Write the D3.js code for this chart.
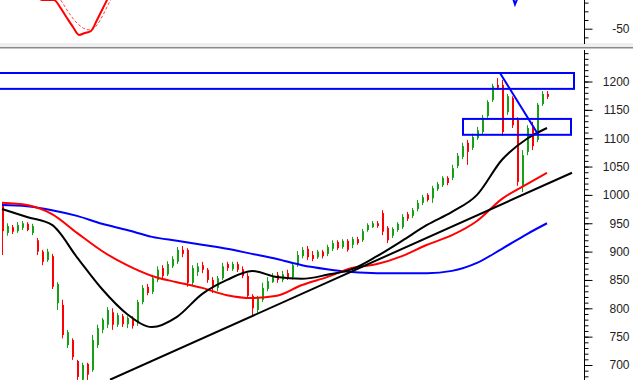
<!DOCTYPE html>
<html>
<head>
<meta charset="utf-8">
<script src="https://cdn.jsdelivr.net/npm/d3@7"></script>
<style>
  body { margin: 0; background: #fff; }
  svg { display: block; }
  .axis text { font-family: Arial, "Liberation Sans", sans-serif; font-size: 12px; fill: #222; }
  .axis line { stroke: #000; }
</style>
</head>
<body>
<svg width="633" height="380"></svg>
<script>
// daily candles, [open, high, low, close]
const ohlc = [
  [982, 987, 894, 936], [933, 950, 928, 945], [943, 947, 931, 935], [936, 952, 933, 947],
  [942, 954, 938, 950], [949, 952, 936, 938], [933, 949, 929, 945], [920, 924, 894, 900],
  [900, 903, 876, 882], [885, 905, 882, 900], [892, 896, 834, 838], [809, 846, 797, 843],
  [806, 815, 747, 753], [735, 762, 730, 758], [744, 747, 709, 714], [707, 709, 665, 679],
  [674, 704, 665, 700], [702, 704, 672, 683], [691, 753, 688, 744], [735, 771, 730, 765],
  [762, 783, 756, 780], [771, 802, 765, 797], [793, 800, 762, 771], [771, 792, 767, 788],
  [786, 790, 767, 772], [772, 786, 765, 783], [783, 786, 764, 769], [774, 815, 769, 811],
  [811, 841, 807, 836], [838, 843, 823, 827], [829, 859, 825, 853], [850, 874, 846, 868],
  [871, 876, 853, 857], [860, 883, 857, 878], [874, 892, 871, 887], [882, 908, 878, 903],
  [903, 910, 890, 896], [903, 906, 838, 845], [845, 876, 841, 871], [864, 880, 857, 874],
  [876, 882, 862, 868], [868, 871, 845, 850], [850, 855, 827, 836], [836, 857, 830, 853],
  [853, 880, 850, 874], [878, 882, 866, 871], [869, 882, 866, 878], [878, 882, 864, 868],
  [869, 874, 853, 857], [857, 862, 818, 822], [822, 825, 788, 800], [797, 822, 792, 818],
  [815, 845, 811, 836], [834, 855, 830, 848], [846, 862, 845, 857], [859, 864, 845, 850],
  [850, 866, 846, 860], [862, 868, 850, 853], [855, 882, 851, 876], [876, 901, 873, 894],
  [892, 908, 888, 903], [905, 910, 885, 890], [894, 901, 883, 887], [890, 903, 887, 900],
  [900, 903, 888, 892], [896, 912, 892, 908], [905, 920, 901, 915], [917, 920, 903, 906],
  [908, 922, 905, 919], [919, 922, 900, 903], [912, 926, 906, 922], [922, 926, 912, 915],
  [920, 940, 917, 936], [938, 950, 935, 947], [943, 954, 942, 950], [950, 954, 942, 945],
  [968, 973, 929, 935], [942, 945, 915, 920], [928, 943, 924, 940], [938, 952, 935, 949],
  [943, 966, 940, 961], [966, 970, 954, 958], [963, 977, 959, 973], [975, 991, 971, 986],
  [986, 1000, 982, 996], [1000, 1003, 988, 991], [994, 1016, 986, 1012], [1010, 1023, 1007, 1019],
  [1017, 1033, 1014, 1030], [1030, 1033, 1017, 1021], [1030, 1053, 1026, 1047], [1051, 1074, 1047, 1069],
  [1067, 1092, 1063, 1086], [1092, 1097, 1053, 1076], [1083, 1108, 1079, 1102], [1100, 1120, 1097, 1114],
  [1111, 1141, 1107, 1136], [1139, 1167, 1136, 1164], [1167, 1196, 1164, 1192], [1194, 1206, 1185, 1189],
  [1194, 1203, 1104, 1111], [1146, 1178, 1141, 1174], [1171, 1174, 1118, 1123], [1132, 1137, 1016, 1023],
  [1017, 1079, 1005, 1070], [1076, 1123, 1070, 1118], [1121, 1129, 1079, 1086], [1097, 1162, 1093, 1159],
  [1160, 1183, 1157, 1178], [1178, 1183, 1169, 1173]
];

// moving averages, sampled every 5 bars
const maIdx = [0, 5, 10, 15, 20, 25, 30, 35, 40, 45, 50, 55, 60, 65, 70, 75, 80, 85, 90, 95, 100, 105, 109];
const maShort = [975, 961, 947, 890, 834, 790, 767, 785, 825, 850, 866, 855, 852, 859, 869, 892, 919, 947, 970, 1000, 1062, 1099, 1118];
const maMid = [986, 982, 966, 933, 901, 876, 857, 846, 836, 823, 818, 822, 841, 855, 871, 878, 892, 912, 929, 954, 993, 1019, 1039];
const maLong = [982, 980, 973, 963, 949, 938, 926, 919, 912, 905, 896, 887, 876, 869, 864, 862, 862, 862, 866, 880, 905, 931, 950];

// drawn objects: [bar index, price]
const trendLine = [[21.6, 674], [114, 1039]];
const fallLine = [[99.6, 1215], [107.2, 1107]];
const boxes = [
  { from: -3, to: 114.4, top: 1215, bottom: 1187 },
  { from: 92.2, to: 113.8, top: 1134, bottom: 1106 }
];

// oscillator pane
const oscIdx = [6.8, 8.0, 10.4, 11.6, 13.0, 14.2, 15.4, 16.6, 17.8, 19.0, 20.2, 21.0, 21.6];
const oscMain = [-10, -17, -17, -25.1, -37.7, -48, -57.2, -54.9, -52.6, -40, -26.2, -17, -10];
const sigIdx = [11.2, 12, 13.4, 15.4, 16.6, 17.8, 19.0, 20.2, 21.4, 22.4];
const oscSignal = [-12.4, -19.3, -32, -45.7, -50.3, -51.5, -45.7, -34.3, -20.5, -11.3];
const oscBlueIdx = [101.8, 102.6, 103.3];
const oscBlue = [-8, -22, -12];

const priceTicks = [700, 750, 800, 850, 900, 950, 1000, 1050, 1100, 1150, 1200];
const oscTicks = [-50];

const W = 633, H = 380, axisX = 584;
const svg = d3.select('svg');

const x = d3.scaleLinear().domain([0, 109]).range([2, 547]);
const y = d3.scaleLinear().domain([700, 1200]).range([365, 81.5]);
const yOsc = d3.scaleLinear().domain([-50, -20]).range([28.7, 2.6]);

const defs = svg.append('defs');
defs.append('clipPath').attr('id', 'clipMain')
  .append('rect').attr('x', 0).attr('y', 49).attr('width', axisX).attr('height', H - 49);
defs.append('clipPath').attr('id', 'clipOsc')
  .append('rect').attr('x', 0).attr('y', 0).attr('width', axisX).attr('height', 44);

// separator between panes
svg.append('rect').attr('x', 0).attr('y', 43).attr('width', W).attr('height', 4).attr('fill', '#efefef');
svg.append('line').attr('x1', 0).attr('x2', W).attr('y1', 47.8).attr('y2', 47.8)
  .attr('stroke', '#8a8a8a').attr('stroke-width', 1.6);

// oscillator
const osc = svg.append('g').attr('clip-path', 'url(#clipOsc)');
const oscLine = d3.line().x(d => x(d[0])).y(d => yOsc(d[1])).curve(d3.curveMonotoneX);
osc.append('path').datum(d3.zip(sigIdx, oscSignal)).attr('d', oscLine)
  .attr('fill', 'none').attr('stroke', '#ff4040').attr('stroke-width', 1).attr('stroke-dasharray', '3,2');
osc.append('path').datum(d3.zip(oscIdx, oscMain)).attr('d', oscLine)
  .attr('fill', 'none').attr('stroke', '#ff0000').attr('stroke-width', 2);
osc.append('path').datum(d3.zip(oscBlueIdx, oscBlue)).attr('d', d3.line().x(d => x(d[0])).y(d => yOsc(d[1])))
  .attr('fill', 'none').attr('stroke', '#0000ff').attr('stroke-width', 2);

// price pane
const main = svg.append('g').attr('clip-path', 'url(#clipMain)');

const bars = main.append('g').selectAll('g')
  .data(ohlc)
  .enter()
  .append('g')
  .attr('stroke', d => d[3] >= d[0] ? '#16a016' : '#ff0000')
  .attr('fill', d => d[3] >= d[0] ? '#16a016' : '#ff0000');

bars.append('line')
  .attr('x1', (d, i) => Math.round(x(i)) + 0.5)
  .attr('x2', (d, i) => Math.round(x(i)) + 0.5)
  .attr('y1', d => y(d[1]))
  .attr('y2', d => y(d[2]))
  .attr('stroke-width', 1);

bars.append('rect')
  .attr('x', (d, i) => Math.round(x(i)))
  .attr('y', d => y(Math.max(d[0], d[3])))
  .attr('width', 2)
  .attr('height', d => Math.max(1, Math.abs(y(d[0]) - y(d[3]))))
  .attr('stroke', 'none');

const maLine = d3.line().x(d => x(d[0])).y(d => y(d[1])).curve(d3.curveMonotoneX);
[[maLong, '#0000ff'], [maMid, '#ff0000'], [maShort, '#000000']].forEach(([vals, col]) => {
  main.append('path').datum(d3.zip(maIdx, vals)).attr('d', maLine)
    .attr('fill', 'none').attr('stroke', col).attr('stroke-width', 2);
});

const straight = d3.line().x(d => x(d[0])).y(d => y(d[1]));
main.append('path').datum(trendLine).attr('d', straight)
  .attr('fill', 'none').attr('stroke', '#000').attr('stroke-width', 2);
main.append('path').datum(fallLine).attr('d', straight)
  .attr('fill', 'none').attr('stroke', '#0000ff').attr('stroke-width', 2);

main.selectAll('.box')
  .data(boxes)
  .enter()
  .append('rect')
  .attr('class', 'box')
  .attr('x', d => x(d.from))
  .attr('y', d => y(d.top))
  .attr('width', d => x(d.to) - x(d.from))
  .attr('height', d => y(d.bottom) - y(d.top))
  .attr('fill', 'none')
  .attr('stroke', '#0000ff')
  .attr('stroke-width', 2);

// right axes
svg.append('line').attr('x1', axisX + 0.5).attr('x2', axisX + 0.5).attr('y1', 0).attr('y2', 44)
  .attr('stroke', '#000');
svg.append('line').attr('x1', axisX + 0.5).attr('x2', axisX + 0.5).attr('y1', 50).attr('y2', H)
  .attr('stroke', '#000');

const plain = d => String(d);

const axisMinor = svg.append('g').attr('class', 'axis')
  .attr('transform', `translate(${axisX + 0.5},0)`)
  .call(d3.axisRight(y).tickValues(d3.range(680, 1260, 10)).tickSize(4).tickFormat(''));
axisMinor.select('.domain').remove();

const axisMajor = svg.append('g').attr('class', 'axis')
  .attr('transform', `translate(${axisX + 0.5},0)`)
  .call(d3.axisRight(y).tickValues(priceTicks).tickSize(8).tickFormat(plain));
axisMajor.select('.domain').remove();
axisMajor.selectAll('text').attr('x', 45).attr('text-anchor', 'end');

const oscMinor = svg.append('g').attr('class', 'axis')
  .attr('transform', `translate(${axisX + 0.5},0)`)
  .call(d3.axisRight(yOsc).tickValues([-60, -40, -30, -20]).tickSize(4).tickFormat(''));
oscMinor.select('.domain').remove();

const oscMajor = svg.append('g').attr('class', 'axis')
  .attr('transform', `translate(${axisX + 0.5},0)`)
  .call(d3.axisRight(yOsc).tickValues(oscTicks).tickSize(8).tickFormat(plain));
oscMajor.select('.domain').remove();
oscMajor.selectAll('text').attr('x', 45).attr('text-anchor', 'end');
</script>
</body>
</html>
